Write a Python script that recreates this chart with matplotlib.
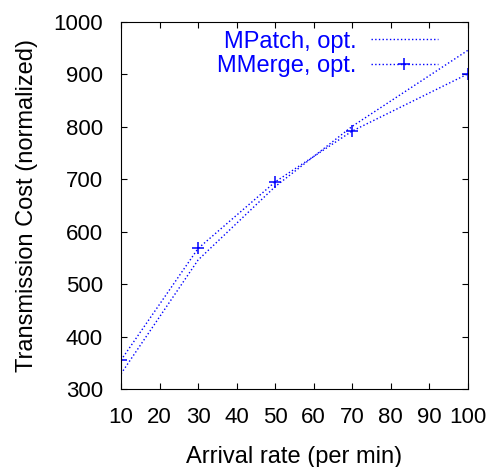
import matplotlib
matplotlib.use("Agg")
import matplotlib.pyplot as plt

plt.rcParams['font.family'] = ['Liberation Sans', 'DejaVu Sans']

arrival = [10, 30, 50, 70, 100]
mpatch = [329, 546, 686, 801, 946]
mmerge = [355, 568, 695, 792, 901]
xticks = [10, 20, 30, 40, 50, 60, 70, 80, 90, 100]
yticks = [300, 400, 500, 600, 700, 800, 900, 1000]

fig = plt.figure(figsize=(4.91, 4.67), dpi=100)
ax = fig.add_axes([0.2464, 0.167, 0.7066, 0.786])

ax.plot(arrival, mpatch, color='#0000ff', linestyle=':', linewidth=1.0, label='MPatch, opt.')
ax.plot(arrival, mmerge, color='#0000ff', linestyle=':', linewidth=1.0,
        marker='+', markersize=9, markeredgewidth=1.1, label='MMerge, opt.')

ax.set_xlim(10, 100)
ax.set_ylim(300, 1000)
ax.set_xticks(xticks)
ax.set_yticks(yticks)
ax.tick_params(direction='in', length=4, top=True, right=True, labelsize=16)
ax.tick_params(axis='x', pad=13)
ax.tick_params(axis='y', pad=13)
ax.set_xlabel("Arrival rate (per min)", fontsize=17, labelpad=13)
ax.set_ylabel("Transmission Cost (normalized)", fontsize=17, labelpad=11)

ax.legend(loc='upper right', bbox_to_anchor=(0.913, 0.976), frameon=False, markerfirst=False,
          fontsize=17, labelcolor='#0000ff', handlelength=2.84, handletextpad=0.6,
          labelspacing=0.1, borderaxespad=0, borderpad=0)

fig.savefig("out.png", dpi=100)
